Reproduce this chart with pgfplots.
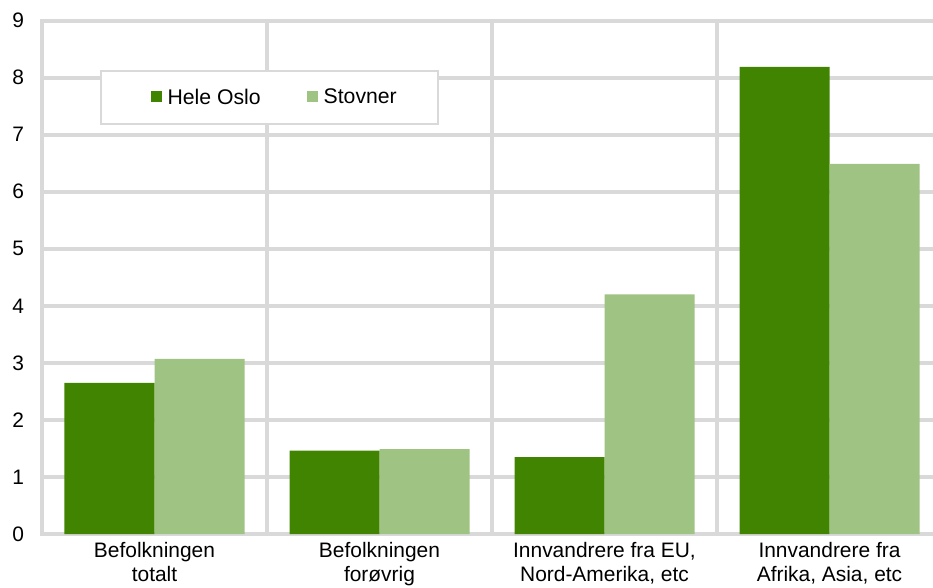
\documentclass[border=0pt]{standalone}
\usepackage{fontspec}
\setmainfont{Liberation Sans}
\usepackage{pgfplots}
\pgfplotsset{compat=1.18}
\definecolor{dgreen}{HTML}{408402}
\definecolor{lgreen}{HTML}{9FC383}
\definecolor{gridgray}{HTML}{D9D9D9}
\begin{document}
\begin{tikzpicture}
\useasboundingbox (-31.5pt,-39.75pt) rectangle (668.25pt,400.5pt);
\begin{axis}[
  anchor=south west, at={(0pt,0pt)},
  scale only axis, width=675pt, height=385pt,
  xmin=-0.5, xmax=3.5, ymin=0, ymax=9,
  ybar=0pt, bar width=0.4,
  axis line style={gridgray, line width=3pt},
  ytick={0,1,...,9},
  xtick={0,1,2,3},
  xticklabels={{Befolkningen\\totalt},{Befolkningen\\forøvrig},{Innvandrere fra EU,\\Nord-Amerika, etc},{Innvandrere fra\\Afrika, Asia, etc}},
  minor xtick={0.5,1.5,2.5},
  ymajorgrids, xminorgrids,
  grid style={gridgray, line width=3pt},
  major tick length=0pt, minor tick length=0pt,
  /pgf/number format/assume math mode=true,
  tick label style={font=\fontsize{15.7}{18}\selectfont, black},
  xticklabel style={align=center, yshift=-3pt},
  yticklabel style={xshift=-10pt},
  legend style={at={(0.0644,0.9039)}, anchor=north west, draw=gridgray, line width=1.5pt, fill=white,
    font=\fontsize{15.9}{18}\selectfont, inner xsep=28.75pt, inner ysep=11.4pt,
    /tikz/every odd column/.append style={column sep=2pt},
    /tikz/every even column/.append style={column sep=24pt}},
  legend columns=2,
  legend image code/.code={\path (-9pt,0pt); \fill[#1, draw=none] (0pt,-3.5pt) rectangle (8.25pt,4.75pt);},
]
\addplot[fill=dgreen, draw=none] coordinates {(0,2.65) (1,1.46) (2,1.35) (3,8.19)};
\addplot[fill=lgreen, draw=none] coordinates {(0,3.07) (1,1.49) (2,4.20) (3,6.49)};
\legend{Hele Oslo, Stovner}
\end{axis}
\end{tikzpicture}
\end{document}
